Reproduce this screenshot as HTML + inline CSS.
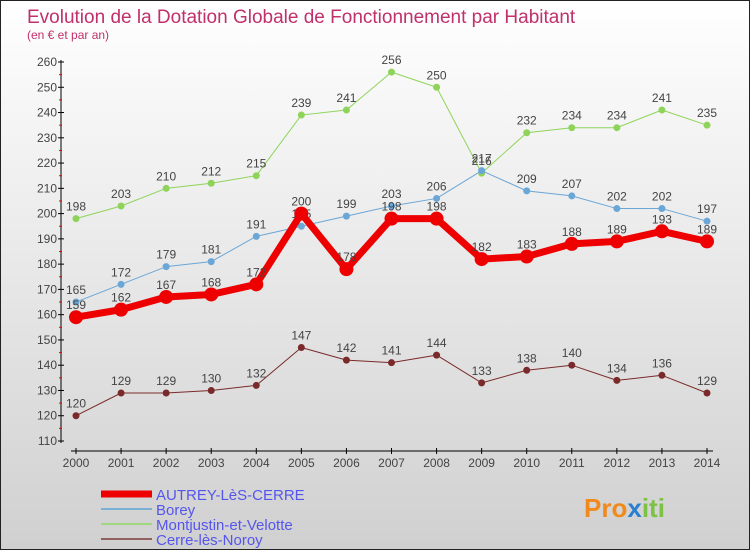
<!DOCTYPE html>
<html><head><meta charset="utf-8"><style>
body{margin:0;}
#c{width:750px;height:550px;position:relative;box-sizing:border-box;border:1px solid #222;background:linear-gradient(#ffffff,#d0d0d0);font-family:"Liberation Sans",sans-serif;overflow:hidden}
svg text{font-family:"Liberation Sans",sans-serif}
</style></head><body>
<div id="c">
<svg id="s" width="750" height="550">
<text x="26" y="22" font-size="19" fill="#c0306a">Evolution de la Dotation Globale de Fonctionnement par Habitant</text>
<text x="26" y="38" font-size="12" fill="#c0306a">(en € et par an)</text>
<g id="axes"></g><g id="series"></g><g id="legend"></g>
<g>
<text x="583" y="516" font-size="26" font-weight="bold" fill="#f08a1c">Pro<tspan fill="#2a7fd0">x</tspan><tspan fill="#7cc243">iti</tspan></text>
</g>
</svg>
</div>
<script>
const years=[2000,2001,2002,2003,2004,2005,2006,2007,2008,2009,2010,2011,2012,2013,2014];
const autrey=[159,162,167,168,172,200,178,198,198,182,183,188,189,193,189];
const borey=[165,172,179,181,191,195,199,203,206,217,209,207,202,202,197];
const montjustin=[198,203,210,212,215,239,241,256,250,216,232,234,234,241,235];
const cerre=[120,129,129,130,132,147,142,141,144,133,138,140,134,136,129];
const yTicks=[110,120,130,140,150,160,170,180,190,200,210,220,230,240,250,260];
const NS="http://www.w3.org/2000/svg";
const X=i=>75+i*(706-75)/(years.length-1);
const Y=v=>440-(v-110)*(440-61)/150;
function mk(tag,attrs,parent){const e=document.createElementNS(NS,tag);for(const k in attrs)e.setAttribute(k,attrs[k]);parent.appendChild(e);return e;}
const ax=document.getElementById('axes');
let yl=mk('line',{x1:60,y1:59,x2:60,y2:442,stroke:'#000'},ax);


yTicks.forEach(v=>{
 mk('line',{x1:57,x2:63,y1:Y(v),y2:Y(v),stroke:'#000'},ax);
 if(v<260)mk('line',{x1:58,x2:61,y1:Y(v+5),y2:Y(v+5),stroke:'#e00'},ax);
 const t=mk('text',{x:56,y:Y(v)+4,'font-size':12,'text-anchor':'end',fill:'#444'},ax);t.textContent=v;
 
 
});
let xl=mk('line',{x1:70,y1:450,x2:712,y2:450,stroke:'#000'},ax);


years.forEach((y,i)=>{
 mk('line',{x1:X(i),x2:X(i),y1:447,y2:453,stroke:'#000'},ax);
 const t=mk('text',{x:X(i),y:466,'font-size':12,'text-anchor':'middle',fill:'#444'},ax);t.textContent=y;
 
 
});
const sg=document.getElementById('series');
const defs=[
 {d:cerre,c:'#7a2a2a',w:1,r:3.5,n:'cerre-les-noroy'},
 {d:montjustin,c:'#8fd45a',w:1,r:3.5,n:'montjustin-et-velotte'},
 {d:borey,c:'#6aa6d6',w:1,r:3.5,n:'borey'},
 {d:autrey,c:'#ee0000',w:7,r:7,n:'autrey-les-cerre'}];
defs.forEach(s=>{
 const p=mk('polyline',{points:s.d.map((v,i)=>X(i)+','+Y(v)).join(' '),fill:'none',stroke:s.c,'stroke-width':s.w,'stroke-linejoin':'round'},sg);
 
 
 s.d.forEach((v,i)=>{
  const c=mk('circle',{cx:X(i),cy:Y(v),r:s.r,fill:s.c},sg);
  
  
  const t=mk('text',{x:X(i),y:Y(v)-8,'font-size':12,'text-anchor':'middle',fill:'#444'},sg);t.textContent=v;
  
  
 });
});
const lg=document.getElementById('legend');
const L=[['AUTREY-LèS-CERRE','#ee0000',7],['Borey','#7ab0d6',2],['Montjustin-et-Velotte','#a0d880',2],['Cerre-lès-Noroy','#906060',2]];
L.forEach((e,i)=>{
 const y=493+i*15;
 const l=mk('line',{x1:100,x2:151,y1:y,y2:y,stroke:e[1],'stroke-width':e[2]},lg);
 
 
 const t=mk('text',{x:155,y:y+6,'font-size':15,fill:'#5555ee'},lg);t.textContent=e[0];
 
 
});
</script>
</body></html>
